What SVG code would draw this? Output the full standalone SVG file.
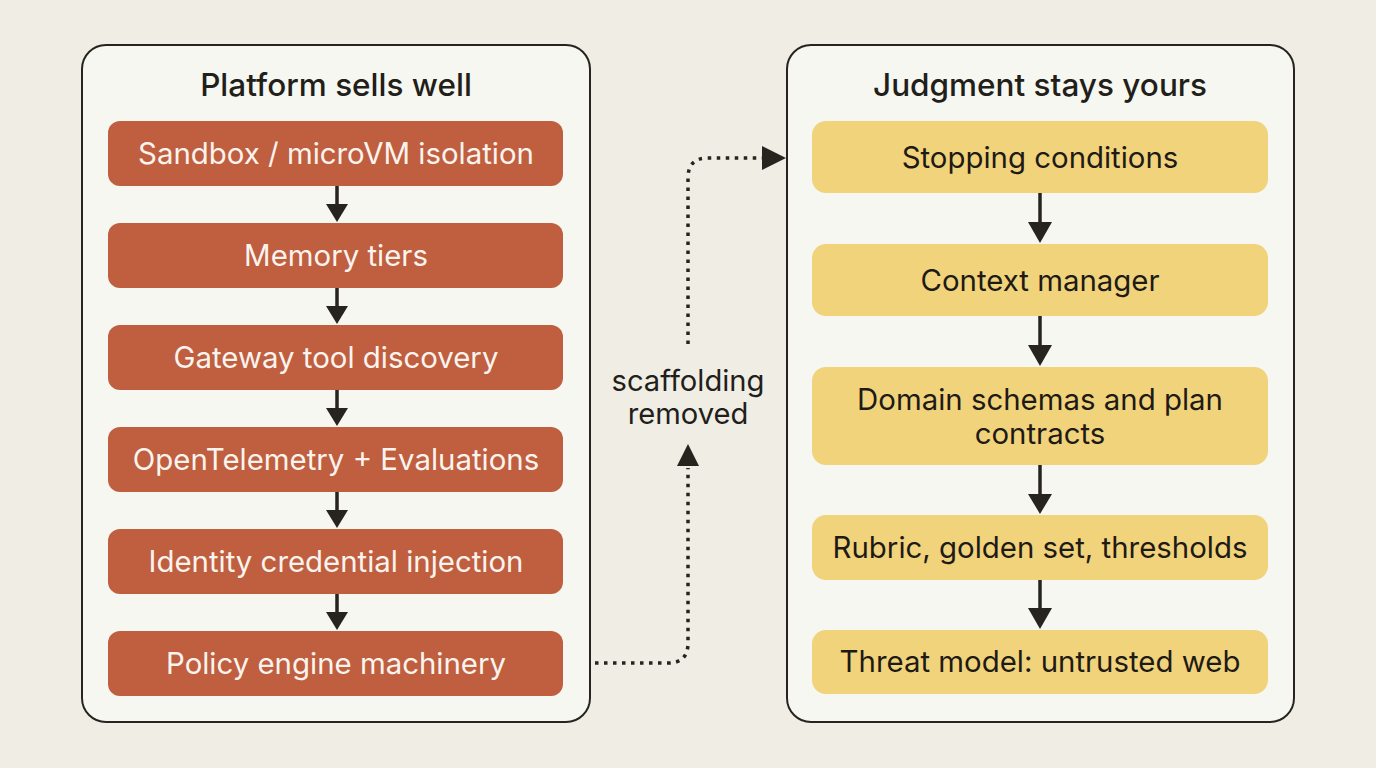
<svg xmlns="http://www.w3.org/2000/svg" width="1376" height="768" viewBox="0 0 1376 768">
<defs>
<style>
.page{fill:#efede4}
.panel{fill:#f7f7f2;stroke:#27231e;stroke-width:2}
.red{fill:#bf5f3f}
.yel{fill:#f1d37c}
.title{font-family:Inter,"Liberation Sans",sans-serif;font-size:31.5px;fill:#221e1a;text-anchor:middle;font-weight:500}
.wt{font-family:Inter,"Liberation Sans",sans-serif;font-size:29.4px;fill:#fbf4ee;text-anchor:middle}
.dt{font-family:Inter,"Liberation Sans",sans-serif;font-size:29.4px;fill:#1e1a16;text-anchor:middle}
.lbl{font-family:Inter,"Liberation Sans",sans-serif;font-size:29.2px;fill:#221e1a;text-anchor:middle}
.arr{stroke:#27231e;stroke-width:3.5;fill:none}
.head{fill:#27231e}
.dot{stroke:#27231e;stroke-width:3.5;fill:none;stroke-dasharray:3.5 5.5}
</style>
</defs>
<rect class="page" x="0" y="0" width="1376" height="768"/>
<g id="panel-left">
<rect class="panel" x="82" y="45" width="508" height="677" rx="24"/>
<text class="title" x="336" y="96">Platform sells well</text>
</g>
<g id="panel-right">
<rect class="panel" x="787" y="45" width="507" height="677" rx="24"/>
<text class="title" x="1040" y="96">Judgment stays yours</text>
</g>
<g id="n-sandbox"><rect class="red" x="108" y="121" width="455" height="65" rx="12"/><text class="wt" x="336" y="164">Sandbox / microVM isolation</text></g>
<g id="n-memory"><rect class="red" x="108" y="223" width="455" height="65" rx="12"/><text class="wt" x="336" y="266">Memory tiers</text></g>
<g id="n-gateway"><rect class="red" x="108" y="325" width="455" height="65" rx="12"/><text class="wt" x="336" y="368">Gateway tool discovery</text></g>
<g id="n-otel"><rect class="red" x="108" y="427" width="455" height="65" rx="12"/><text class="wt" x="336" y="470">OpenTelemetry + Evaluations</text></g>
<g id="n-identity"><rect class="red" x="108" y="529" width="455" height="65" rx="12"/><text class="wt" x="336" y="572">Identity credential injection</text></g>
<g id="n-policy"><rect class="red" x="108" y="631" width="455" height="65" rx="12"/><text class="wt" x="336" y="674">Policy engine machinery</text></g>
<g id="n-stopping"><rect class="yel" x="812" y="121" width="456" height="72" rx="14"/><text class="dt" x="1040" y="168">Stopping conditions</text></g>
<g id="n-context"><rect class="yel" x="812" y="244" width="456" height="72" rx="14"/><text class="dt" x="1040" y="291">Context manager</text></g>
<g id="n-domain"><rect class="yel" x="812" y="367" width="456" height="98" rx="14"/><text class="dt" x="1040" y="410">Domain schemas and plan</text><text class="dt" x="1040" y="444">contracts</text></g>
<g id="n-rubric"><rect class="yel" x="812" y="515" width="456" height="65" rx="14"/><text class="dt" x="1040" y="558">Rubric, golden set, thresholds</text></g>
<g id="n-threat"><rect class="yel" x="812" y="630" width="456" height="64" rx="14"/><text class="dt" x="1040" y="672">Threat model: untrusted web</text></g>
<g id="connectors">
<path class="arr" d="M337 186V206"/><path class="head" d="M326 204H348L337 222Z"/>
<path class="arr" d="M337 288V308"/><path class="head" d="M326 306H348L337 324Z"/>
<path class="arr" d="M337 390V410"/><path class="head" d="M326 408H348L337 426Z"/>
<path class="arr" d="M337 492V512"/><path class="head" d="M326 510H348L337 528Z"/>
<path class="arr" d="M337 594V614"/><path class="head" d="M326 612H348L337 630Z"/>
<path class="arr" d="M1040 193V224"/><path class="head" d="M1028 222H1052L1040 243Z"/>
<path class="arr" d="M1040 316V347"/><path class="head" d="M1028 345H1052L1040 366Z"/>
<path class="arr" d="M1040 465V496"/><path class="head" d="M1028 494H1052L1040 514Z"/>
<path class="arr" d="M1040 580V610"/><path class="head" d="M1028 608H1052L1040 629Z"/>
<path class="dot" d="M595 663H668Q688 663 688 643V468"/>
<path class="head" d="M677 466H699L688 444Z"/>
<path class="dot" d="M688 344V178Q688 158 708 158H764"/>
<path class="head" d="M762 146V170L786 158Z"/>
<text class="lbl" x="688" y="391">scaffolding</text>
<text class="lbl" x="688" y="424">removed</text>
</g>
</svg>
